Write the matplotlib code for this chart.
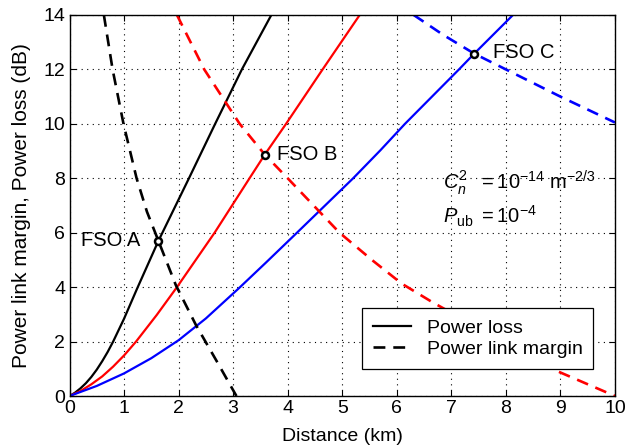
import matplotlib
matplotlib.use("Agg")
import matplotlib.pyplot as plt
from matplotlib.lines import Line2D

plt.rcParams['font.family'] = ['Liberation Sans', 'DejaVu Sans']
plt.rcParams['mathtext.fontset'] = 'custom'
plt.rcParams['mathtext.rm'] = 'Liberation Sans'
plt.rcParams['mathtext.it'] = 'Liberation Sans:italic'

# Power loss (solid)
loss_a_x = [0, 0.1, 0.2, 0.3, 0.4, 0.5, 0.6, 0.7, 0.8, 1.0, 1.24, 1.63, 2.19, 2.67, 3.16, 3.70]
loss_a_y = [0, 0.12, 0.28, 0.47, 0.70, 0.97, 1.28, 1.62, 2.0, 2.84, 3.95, 5.70, 8.0, 10.0, 12.0, 14.0]
loss_b_x = [0, 0.2, 0.4, 0.6, 0.8, 1.0, 1.22, 1.6, 1.97, 2.66, 3.30, 3.58, 3.97, 4.64, 5.32]
loss_b_y = [0, 0.18, 0.43, 0.72, 1.08, 1.49, 2.0, 2.98, 4.0, 6.0, 8.0, 8.87, 10.0, 12.0, 14.0]
loss_c_x = [0, 0.5, 1.0, 1.5, 2.0, 2.5, 3.1, 3.6, 4.17, 5.20, 5.70, 6.15, 7.14, 7.42, 8.13]
loss_c_y = [0, 0.37, 0.83, 1.39, 2.05, 2.85, 3.95, 4.9, 6.0, 8.0, 9.03, 10.0, 12.0, 12.58, 14.0]

# Power link margin (dashed)
marg_a_x = [0.63, 0.79, 0.99, 1.23, 1.42, 1.63, 1.95, 2.32, 2.69, 3.06]
marg_a_y = [14.0, 12.0, 10.0, 8.0, 6.77, 5.70, 4.07, 2.60, 1.31, 0.0]
marg_b_x = [1.97, 2.47, 3.12, 3.58, 4.0, 4.95, 5.55, 6.09, 6.65, 7.95, 8.9, 10.0]
marg_b_y = [14.0, 12.0, 10.0, 8.87, 8.0, 6.0, 4.99, 4.13, 3.45, 2.0, 0.95, 0.0]
marg_c_x = [6.31, 6.85, 7.42, 8.0, 9.0, 10.0]
marg_c_y = [14.0, 13.27, 12.58, 12.0, 11.0, 10.05]

# Intersection points
fso_x = [1.63, 3.58, 7.42]
fso_y = [5.70, 8.87, 12.58]
fso_labels = ["FSO A", "FSO B", "FSO C"]

fig = plt.figure(figsize=(6.29, 4.46), dpi=100)
ax = fig.add_axes([0.1105, 0.1121, 0.8672, 0.8543])

lw = 1.6
dash = (0, (4.5, 3))
ax.plot(loss_a_x, loss_a_y, color='black', lw=lw)
ax.plot(loss_b_x, loss_b_y, color='#ff0000', lw=lw)
ax.plot(loss_c_x, loss_c_y, color='#0000ff', lw=lw)
ax.plot(marg_a_x, marg_a_y, color='black', lw=lw + 0.3, linestyle=dash)
ax.plot(marg_b_x, marg_b_y, color='#ff0000', lw=lw + 0.3, linestyle=dash)
ax.plot(marg_c_x, marg_c_y, color='#0000ff', lw=lw + 0.3, linestyle=dash)

ax.plot(fso_x, fso_y, linestyle='none', marker='o', markersize=5,
        markerfacecolor='white', markeredgecolor='black', markeredgewidth=1.8, zorder=5)

fs = 14
ax.text(1.29, fso_y[0], fso_labels[0], ha='right', va='center', fontsize=fs + 0.5)
ax.text(3.80, fso_y[1], fso_labels[1], ha='left', va='center', fontsize=fs + 0.5)
ax.text(7.76, fso_y[2] + 0.05, fso_labels[2], ha='left', va='center', fontsize=fs + 0.5)

ax.text(6.85, 7.85, r'$C_n^2\ \ = 10^{-14}\ \mathrm{m}^{-2/3}$', fontsize=fs + 0.5, ha='left', va='center')
ax.text(6.85, 6.6, r'$P_{\mathrm{ub}}\ = 10^{-4}$', fontsize=fs + 0.5, ha='left', va='center')

ax.set_xlim(0, 10)
ax.set_ylim(0, 14)
ax.set_xticks(range(0, 11))
ax.set_yticks(range(0, 15, 2))
ax.tick_params(direction='in', top=True, right=True, labelsize=fs, length=4, width=0.8, pad=3)
ax.grid(True, color='black', linestyle=(0, (1, 4)), linewidth=0.8)
for s in ax.spines.values():
    s.set_linewidth(1.0)

ax.set_xlabel('Distance (km)', fontsize=fs, labelpad=8)
ax.set_ylabel('Power link margin, Power loss (dB)', fontsize=15, labelpad=9)

handles = [Line2D([], [], color='black', lw=lw),
           Line2D([], [], color='black', lw=lw + 0.3, linestyle=dash)]
leg = ax.legend(handles, ['Power loss', 'Power link margin'], loc='lower right',
                bbox_to_anchor=(0.96, 0.071), fontsize=fs, frameon=True, fancybox=False,
                edgecolor='black', framealpha=1, handlelength=1.95, borderpad=0.55,
                labelspacing=0.2, handletextpad=0.8, borderaxespad=0)
leg.get_frame().set_linewidth(0.9)

fig.savefig('out.png', dpi=100)
